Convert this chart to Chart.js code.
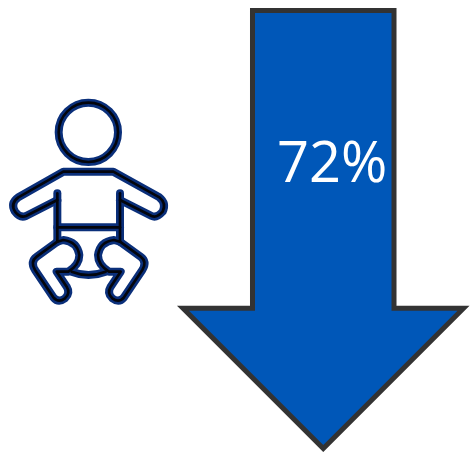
<!DOCTYPE html>
<html>
<head>
<meta charset="utf-8">
<title>72%</title>
<script src="https://cdn.jsdelivr.net/npm/chart.js@4"></script>
<style>
  html, body { margin: 0; padding: 0; background: #fff; }
  canvas { display: block; }
</style>
</head>
<body>
<canvas id="chart" width="470" height="452"></canvas>
<script>
const categories = ['Share'];
const shareValues = [72];
const axisMax = [72];

const ARROW_FILL = '#0057b8';
const ARROW_EDGE = '#333333';
const ICON_NAVY = '#0a2f7a';
const ICON_CORE = '#03050c';

// shaft width to head width
const BAR_SHARE = 0.5045;

// icon outline, drawn at 3x and scaled down
const mirror = (x) => 532 - x;
const legPath = (m) => `M${m(172)} 455 L${m(110)} 500 Q${m(90)} 515 ${m(105)} 540 L${m(160)} 622 `
  + `Q${m(175)} 640 ${m(195)} 625 Q${m(212)} 610 ${m(200)} 590 L${m(170)} 545 L${m(205)} 545 `
  + `Q${m(238)} 525 ${m(238)} 495 Q${m(232)} 455 ${m(190)} 450 L${m(172)} 455`;

const babyPaths = [
  'M354 127 A89 89 0 1 1 176 127 A89 89 0 1 1 354 127 Z',
  'M172 330 L78 378 Q60 385 45 365 Q30 340 55 322 L190 245 L340 245 L478 322 Q500 340 488 365 Q470 385 455 378 L360 330',
  'M172 310 L172 455',
  'M360 310 L360 455',
  'M172 412 L360 412',
  'M215 545 Q265 565 317 545',
  legPath((x) => x),
  legPath(mirror),
];

const arrowPlugin = {
  id: 'arrow',
  // the bar is replaced by an arrow of the same length and shaft width
  beforeDatasetDraw(chart, args) {
    const {ctx} = chart;
    const bar = args.meta.data[0];
    const {x, y, base, width} = bar.getProps(['x', 'y', 'base', 'width'], true);
    const shaft = width / 2;
    const head = shaft / BAR_SHARE;
    const shoulder = y - head;

    ctx.save();
    ctx.beginPath();
    ctx.moveTo(x - shaft, base);
    ctx.lineTo(x + shaft, base);
    ctx.lineTo(x + shaft, shoulder);
    ctx.lineTo(x + head, shoulder);
    ctx.lineTo(x, y);
    ctx.lineTo(x - head, shoulder);
    ctx.lineTo(x - shaft, shoulder);
    ctx.closePath();
    ctx.fillStyle = ARROW_FILL;
    ctx.fill();
    ctx.lineWidth = 5;
    ctx.lineJoin = 'miter';
    ctx.miterLimit = 10;
    ctx.strokeStyle = ARROW_EDGE;
    ctx.stroke();

    ctx.fillStyle = '#ffffff';
    ctx.font = '56px "Open Sans"';
    ctx.textAlign = 'center';
    ctx.textBaseline = 'alphabetic';
    ctx.fillText(`${shareValues[0]}%`, x + 9, 182);
    ctx.restore();
    return false;
  },
  afterDraw(chart) {
    const {ctx} = chart;
    ctx.save();
    ctx.translate(0, 90);
    ctx.scale(1 / 3, 1 / 3);
    ctx.lineJoin = 'round';
    ctx.lineCap = 'round';
    [[ICON_NAVY, 24], [ICON_CORE, 8]].forEach(([color, lineWidth]) => {
      ctx.strokeStyle = color;
      ctx.lineWidth = lineWidth;
      babyPaths.forEach((d) => ctx.stroke(new Path2D(d)));
    });
    ctx.restore();
  },
};

new Chart(document.getElementById('chart'), {
  type: 'bar',
  data: {
    labels: categories,
    datasets: [{
      data: shareValues,
      backgroundColor: ARROW_FILL,
      barPercentage: BAR_SHARE,
      categoryPercentage: 1,
    }],
  },
  options: {
    responsive: false,
    animation: false,
    layout: {padding: {left: 183, right: 6.5, top: 10.5, bottom: 3.5}},
    plugins: {legend: {display: false}, tooltip: {enabled: false}, title: {display: false}},
    scales: {
      x: {display: false},
      y: {display: false, reverse: true, min: 0, max: axisMax[0]},
    },
  },
  plugins: [arrowPlugin],
});
</script>
</body>
</html>
